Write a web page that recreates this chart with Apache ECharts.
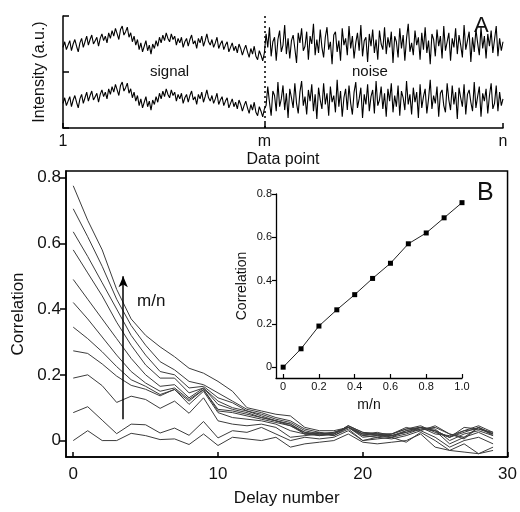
<!DOCTYPE html>
<html><head><meta charset="utf-8">
<script src="https://cdn.jsdelivr.net/npm/echarts@6/dist/echarts.min.js"></script>
<style>html,body{margin:0;padding:0;background:#fff}#c{width:520px;height:512px}</style>
</head><body><div id="c"></div>
<script>
// ---- Panel A data (intensity offsets x0.01) ----
var signalPart = [
 -6,4,-10,-2,6,-12,0,8,-4,-14,
 2,10,-6,4,14,-2,8,16,0,6,
 12,-4,10,18,6,14,2,20,10,24,
 14,28,18,8,26,32,16,22,30,12,
 20,4,14,-2,8,-10,2,-14,-4,6,
 -12,-2,-18,0,-8,6,-4,12,2,16,
 6,20,10,4,18,8,14,-2,10,2,
 12,-6,4,10,-4,8,16,0,6,-8,
 10,2,14,-4,6,18,4,-2,8,-6,
 2,12,-8,0,6,-10,-2,4,-14,-6,
 2,-12,-4,-16,0,-8,-20,-10,-2,-14,
 -24,-8,-18,-4,-22,-28,-12,-20,-30,-16];
var noiseTop = [
 18,-6,30,-22,4,12,-30,8,24,-14,
 -2,34,-18,10,-26,6,16,-8,-34,20,
 2,28,-12,-4,22,-28,14,0,36,-20,
 8,-16,26,-6,-24,12,30,-10,4,-36,
 16,22,-14,6,-30,28,-2,10,-20,32,
 -8,14,-26,2,20,-12,34,-22,6,12,
 -32,18,-4,26,-16,8,-28,24,0,-10,
 30,-18,12,-6,22,-34,14,4,-24,28,
 -8,16,-30,10,36,-14,2,-20,24,-2,
 12,-28,20,-10,30,-16,6,-36,18,8,
 -22,26,-4,14,-26,32,-12,4,20,-30,
 10,-6,28,-18,16,-2,-24,34,-10,6,
 22,-32,12,-14,26,2,-20,30,-8,14,
 -26,18,-4,24,-16,8,32,-22,10,-12,4];
var noiseBottom = [
 -10,24,-4,-28,16,8,-20,32,-12,2,
 26,-18,12,-32,20,4,-14,30,-6,-24,
 14,34,-10,6,-26,18,-2,28,-20,10,
 -34,22,0,-16,30,-8,12,-28,24,-4,
 8,-22,36,-12,16,-30,4,20,-18,26,
 -6,-26,14,32,-14,2,22,-32,10,-8,
 28,-20,6,18,-24,34,-10,0,24,-16,
 12,-30,20,-2,30,-22,8,-12,26,-28,
 16,4,-18,34,-8,10,-26,22,-4,14,
 -32,28,-14,6,20,-24,2,36,-16,8,
 -6,24,-30,12,18,-10,-22,30,0,-18,
 26,-8,14,-34,22,4,-12,28,-26,10,
 18,-4,-20,32,-14,6,24,-30,12,-2,
 20,-24,8,30,-16,-6,26,-20,14,-10,2];
var traceBaselines = [1.5, 0.5];
var aTickLabels = ['1','m','n'];

// ---- Panel B data ----
var delays = [];
for (var d = 0; d <= 29; d++) delays.push(d);
var mnRatios = [0,0.1,0.2,0.3,0.4,0.5,0.6,0.7,0.8,0.9,1.0];
var corr00 = [0,0.03,0,0,0.022,0.015,0.003,0.005,-0.012,0.02,-0.015,0.01,0.005,0.0,0.01,-0.02,-0.01,-0.005,0.0,0.02,-0.005,-0.01,-0.005,0.0,0.02,-0.02,-0.03,-0.035,-0.04,-0.02];
var corr01 = [0.085,0.103,0.062,0.021,0.05,0.048,0.023,0.038,0.016,0.058,0.008,0.03,0.025,0.04,0.02,0.0,0.01,0.005,0.01,0.03,0.0,0.005,0.01,-0.005,0.025,0.0,-0.03,-0.01,-0.04,-0.03];
var corr02 = [0.19,0.2,0.167,0.116,0.135,0.125,0.098,0.12,0.083,0.13,0.06,0.05,0.045,0.05,0.04,0.01,0.015,0.02,0.015,0.035,0.0,0.01,0.005,0.015,0.03,0.01,-0.02,0.0,0.01,-0.01];
var corr03 = [0.273,0.265,0.233,0.196,0.168,0.156,0.136,0.156,0.11,0.15,0.085,0.07,0.065,0.06,0.05,0.03,0.02,0.025,0.015,0.04,0.01,0.015,0.01,0.02,0.035,0.03,-0.01,0.01,0.025,0.005];
var corr04 = [0.345,0.31,0.27,0.225,0.185,0.165,0.14,0.155,0.12,0.155,0.09,0.085,0.075,0.065,0.055,0.045,0.02,0.015,0.02,0.04,0.015,0.02,0.015,0.03,0.04,0.035,0.0,0.02,0.03,0.015];
var corr05 = [0.42,0.37,0.315,0.26,0.21,0.175,0.15,0.16,0.125,0.155,0.095,0.09,0.08,0.07,0.06,0.045,0.025,0.02,0.02,0.045,0.02,0.015,0.015,0.025,0.04,0.03,0.01,0.025,0.04,0.02];
var corr06 = [0.49,0.43,0.37,0.31,0.25,0.2,0.165,0.17,0.13,0.16,0.11,0.095,0.085,0.07,0.06,0.05,0.02,0.02,0.025,0.04,0.02,0.02,0.02,0.035,0.045,0.025,0.01,0.03,0.035,0.02];
var corr07 = [0.58,0.51,0.44,0.36,0.29,0.23,0.19,0.19,0.145,0.16,0.12,0.1,0.09,0.075,0.06,0.05,0.025,0.015,0.02,0.045,0.025,0.02,0.01,0.03,0.04,0.02,0.015,0.03,0.045,0.025];
var corr08 = [0.635,0.56,0.48,0.40,0.32,0.26,0.21,0.2,0.16,0.165,0.13,0.115,0.09,0.08,0.065,0.055,0.03,0.02,0.025,0.04,0.02,0.025,0.015,0.025,0.035,0.04,0.02,0.01,0.04,0.02];
var corr09 = [0.705,0.62,0.53,0.43,0.35,0.29,0.24,0.215,0.18,0.17,0.145,0.12,0.095,0.085,0.07,0.06,0.035,0.025,0.02,0.045,0.025,0.02,0.02,0.035,0.04,0.03,0.01,0.04,0.035,0.025];
var corr10 = [0.775,0.67,0.58,0.46,0.37,0.32,0.285,0.255,0.22,0.205,0.18,0.15,0.1,0.09,0.08,0.075,0.04,0.03,0.03,0.04,0.015,0.01,0.02,0.04,0.03,0.045,0.02,0.005,0.04,0.015];
var allCorr = [corr00,corr01,corr02,corr03,corr04,corr05,corr06,corr07,corr08,corr09,corr10];

// ---- Inset data ----
var insetRatios = [0,0.1,0.2,0.3,0.4,0.5,0.6,0.7,0.8,0.9,1.0];
var insetCorr = [0,0.085,0.19,0.265,0.335,0.41,0.48,0.57,0.62,0.69,0.76];

var FONT = 'Liberation Sans, Arial, sans-serif';
var INK = '#111';

var mIndex = signalPart.length;
var nIndex = signalPart.length + noiseTop.length;
function buildTrace(noise, base) {
  var out = [];
  signalPart.forEach(function (v, i) { out.push([i + 1, base + v / 100]); });
  noise.forEach(function (v, i) { out.push([mIndex + 1 + i, base + v / 100]); });
  return out;
}
var topTrace = buildTrace(noiseTop, traceBaselines[0]);
var botTrace = buildTrace(noiseBottom, traceBaselines[1]);

var series = [];
series.push({type:'line', xAxisIndex:0, yAxisIndex:0, data: topTrace, showSymbol:false, silent:true,
  lineStyle:{color:'#000', width:1.1},
  markLine:{silent:true, symbol:['none','none'], label:{show:false},
    lineStyle:{color:'#000', type:[2,3], width:1.5},
    data:[{xAxis: mIndex}]}});
series.push({type:'line', xAxisIndex:0, yAxisIndex:0, data: botTrace, showSymbol:false, silent:true,
  lineStyle:{color:'#000', width:1.1}});

allCorr.forEach(function (arr, k) {
  var s = {type:'line', xAxisIndex:1, yAxisIndex:1, showSymbol:false, silent:true,
    data: delays.map(function (d, i) { return [d, arr[i]]; }),
    lineStyle:{color:'#3c3c3c', width:1}};
  if (k === 0) {
    s.markLine = {silent:true, symbol:['none','arrow'], symbolSize:[7,11], label:{show:false},
      lineStyle:{color:'#000', type:'solid', width:1.5},
      data:[[{coord:[3.45,0.065]},{coord:[3.45,0.5]}]]};
  }
  series.push(s);
});

series.push({type:'line', xAxisIndex:2, yAxisIndex:2, silent:true,
  data: insetRatios.map(function (r, i) { return [r, insetCorr[i]]; }),
  symbol:'rect', symbolSize:5, showSymbol:true,
  itemStyle:{color:'#000'}, lineStyle:{color:'#222', width:1}});

var chart = echarts.init(document.getElementById('c'), null, {renderer:'canvas'});
chart.setOption({
  animation:false,
  backgroundColor:'#fff',
  grid:[
    {left:63, top:16, width:440, height:112},
    {left:66, top:171, right:12, bottom:50, show:true, borderColor:'#000', borderWidth:1.5, backgroundColor:'transparent'},
    {left:276, top:194, right:58, bottom:134}
  ],
  xAxis:[
    {gridIndex:0, type:'value', min:1, max:nIndex,
      axisLine:{onZero:false, lineStyle:{color:'#000', width:1.5}},
      axisTick:{inside:true, length:5, customValues:[1, mIndex, nIndex], lineStyle:{color:'#000', width:1.5}},
      axisLabel:{customValues:[1, mIndex, nIndex], color:INK, fontFamily:FONT, fontSize:16, margin:6,
        formatter:function (v) { return v === 1 ? aTickLabels[0] : (v === mIndex ? aTickLabels[1] : aTickLabels[2]); }},
      splitLine:{show:false},
      name:'Data point', nameLocation:'middle', nameGap:24, nameTextStyle:{color:INK, fontFamily:FONT, fontSize:16}},
    {gridIndex:1, type:'value', min:-0.5, max:30,
      axisLine:{onZero:false, lineStyle:{color:'#000', width:1.5}},
      axisTick:{inside:true, length:5, customValues:[0,10,20,30], lineStyle:{color:'#000', width:1.5}},
      axisLabel:{customValues:[0,10,20,30], color:INK, fontFamily:FONT, fontSize:17, margin:9},
      splitLine:{show:false},
      name:'Delay number', nameLocation:'middle', nameGap:33, nameTextStyle:{color:INK, fontFamily:FONT, fontSize:17}},
    {gridIndex:2, type:'value', min:-0.04, max:1.0,
      axisLine:{onZero:false, lineStyle:{color:'#000', width:1.3}},
      axisTick:{inside:true, length:4, customValues:[0,0.2,0.4,0.6,0.8,1.0], lineStyle:{color:'#000', width:1.2}},
      axisLabel:{customValues:[0,0.2,0.4,0.6,0.8,1.0], color:INK, fontFamily:FONT, fontSize:11, margin:3,
        formatter:function (v) { return v === 0 ? '0' : v.toFixed(1); }},
      splitLine:{show:false},
      name:'m/n', nameLocation:'middle', nameGap:20, nameTextStyle:{color:INK, fontFamily:FONT, fontSize:14}}
  ],
  yAxis:[
    {gridIndex:0, type:'value', min:0, max:2,
      axisLine:{onZero:false, lineStyle:{color:'#000', width:1.5}},
      axisTick:{inside:true, length:6, customValues:[0,1,2], lineStyle:{color:'#000', width:1.5}},
      axisLabel:{show:false}, splitLine:{show:false},
      name:'Intensity (a.u.)', nameLocation:'middle', nameGap:15, nameTextStyle:{color:INK, fontFamily:FONT, fontSize:16}},
    {gridIndex:1, type:'value', min:-0.05, max:0.82,
      axisLine:{onZero:false, lineStyle:{color:'#000', width:1.5}},
      axisTick:{inside:false, length:6, customValues:[0,0.2,0.4,0.6,0.8], lineStyle:{color:'#000', width:1.5}},
      axisLabel:{customValues:[0,0.2,0.4,0.6,0.8], color:INK, fontFamily:FONT, fontSize:17, margin:5,
        formatter:function (v) { return v === 0 ? '0' : String(Math.round(v*10)/10); }},
      splitLine:{show:false},
      name:'Correlation', nameLocation:'middle', nameGap:38, nameTextStyle:{color:INK, fontFamily:FONT, fontSize:17}},
    {gridIndex:2, type:'value', min:-0.05, max:0.8,
      axisLine:{onZero:false, lineStyle:{color:'#000', width:1.3}},
      axisTick:{inside:false, length:4, customValues:[0,0.2,0.4,0.6,0.8], lineStyle:{color:'#000', width:1.2}},
      axisLabel:{customValues:[0,0.2,0.4,0.6,0.8], color:INK, fontFamily:FONT, fontSize:11, margin:4,
        formatter:function (v) { return v === 0 ? '0' : v.toFixed(1); }},
      splitLine:{show:false},
      name:'Correlation', nameLocation:'middle', nameGap:27, nameTextStyle:{color:INK, fontFamily:FONT, fontSize:14}}
  ],
  graphic:[
    {type:'text', left:150, top:64, style:{text:'signal', fill:INK, font:'15px ' + FONT}},
    {type:'text', left:352, top:64, style:{text:'noise', fill:INK, font:'15px ' + FONT}},
    {type:'text', left:474, top:15, style:{text:'A', fill:INK, font:'22px ' + FONT}},
    {type:'text', left:477, top:181, style:{text:'B', fill:INK, font:'25px ' + FONT}},
    {type:'text', left:137, top:293, style:{text:'m/n', fill:INK, font:'17px ' + FONT}}
  ],
  series: series
});
</script></body></html>
